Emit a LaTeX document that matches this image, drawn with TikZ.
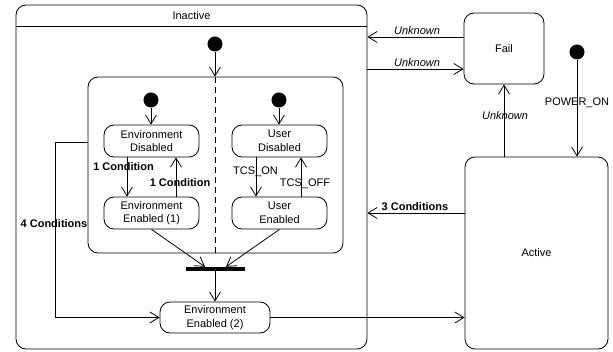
\documentclass[tikz,border=0pt]{standalone}
\usepackage{fontspec}
\setmainfont{Liberation Sans}
\usetikzlibrary{arrows.meta,calc}
\begin{document}
\begin{tikzpicture}[x=1pt,y=-1pt,
  every node/.style={font=\fontsize{11}{13.5}\selectfont},
  ln/.style={line width=0.8pt},
  state/.style={draw, line width=0.8pt, rounded corners=10pt, align=center, inner sep=0pt},
  init/.style={circle, fill=black, minimum size=15pt, inner sep=0pt},
  arr/.style={line width=0.8pt, -{Straight Barb[length=9pt,width=11pt]}},
  lbl/.style={inner sep=1pt},
  boldlbl/.style={lbl, font=\fontsize{11}{13.5}\selectfont\bfseries},
  itlbl/.style={lbl, font=\fontsize{11}{13.5}\selectfont\itshape},
]
\useasboundingbox (0,0) rectangle (613,352);

% composite state Inactive with its header
\node[state, minimum width=351pt, minimum height=344pt] (inactive) at (191.5,177) {};
\draw[ln] (inactive.west |- 0,26) -- (inactive.east |- 0,26);
\node (inactivettl) at (191.5,16) {Inactive};

% concurrent region
\node[state, minimum width=255pt, minimum height=176pt] (inner) at (215.5,165) {};
\draw[ln, dashed, dash pattern=on 6pt off 4pt] (inner.north) -- (inner.south);

% simple states
\node[state, minimum width=95pt, minimum height=32pt] (envdis) at (151.5,141) {Environment\\Disabled};
\node[state, minimum width=95pt, minimum height=32pt] (userdis) at (279.5,141) {User\\Disabled};
\node[state, minimum width=95pt, minimum height=32pt] (enven1) at (151.5,213) {Environment\\Enabled (1)};
\node[state, minimum width=95pt, minimum height=32pt] (useren) at (279.5,213) {User\\Enabled};
\node[state, minimum width=110pt, minimum height=31pt] (enven2) at (215,317.5) {Environment\\Enabled (2)};
\node[state, minimum width=80pt, minimum height=71pt] (fail) at (504,48.5) {Fail};
\node[state, minimum width=143pt, minimum height=192pt] (active) at (536.5,253) {Active};

% join bar
\node[fill=black, minimum width=59pt, minimum height=4pt, inner sep=0pt] (bar) at (215.5,269) {};

% initial pseudostates
\node[init] (i0) at (215,44) {};
\node[init] (i1) at (151,100) {};
\node[init] (i2) at (279,100) {};
\node[init] (pw) at (577,52) {};

% transitions inside Inactive
\draw[arr] (i0) -- (i0 |- inner.north);
\draw[arr] (i1) -- (i1 |- envdis.north);
\draw[arr] (i2) -- (i2 |- userdis.north);
\draw[arr] (envdis.south -| 127,0) -- (enven1.north -| 127,0);
\draw[arr] (enven1.north -| 176,0) -- (envdis.south -| 176,0);
\draw[arr] (userdis.south -| 256,0) -- (useren.north -| 256,0);
\draw[arr] (useren.north -| 301,0) -- (userdis.south -| 301,0);
\node[boldlbl] (c1a) at (123.5,167) {1 Condition};
\node[boldlbl] (c1b) at (180,183) {1 Condition};
\node[lbl] (tcson) at (255.5,172) {TCS\_ON};
\node[lbl] (tcsoff) at (305,184) {TCS\_OFF};

\draw[arr] (enven1.south) -- (bar.north -| 205,0);
\draw[arr] (useren.south) -- (bar.north -| 226,0);
\draw[arr] (bar.south -| enven2.north) -- (enven2.north);

\draw[arr] (inner.west |- 0,142) -- (55,142) |- (enven2.west);
\node[boldlbl] (c4) at (54,224) {4 Conditions};

% transitions between top-level states
\draw[arr] (enven2.east) -- (active.west |- enven2.east);
\draw[arr] (active.west |- 0,213) -- (inactive.east |- 0,213);
\node[boldlbl] (c3) at (415,207) {3 Conditions};

\draw[arr] (fail.west |- 0,37) -- (inactive.east |- 0,37);
\node[itlbl] (u1) at (417,31) {Unknown};
\draw[arr] (inactive.east |- 0,69) -- (fail.west |- 0,69);
\node[itlbl] (u2) at (417,63) {Unknown};
\draw[arr] (fail.south |- active.north) -- (fail.south);
\node[itlbl] (u3) at (505,116) {Unknown};

\draw[arr] (pw) -- (pw |- active.north);
\node[lbl] (pwon) at (577,103) {POWER\_ON};
\end{tikzpicture}
\end{document}
